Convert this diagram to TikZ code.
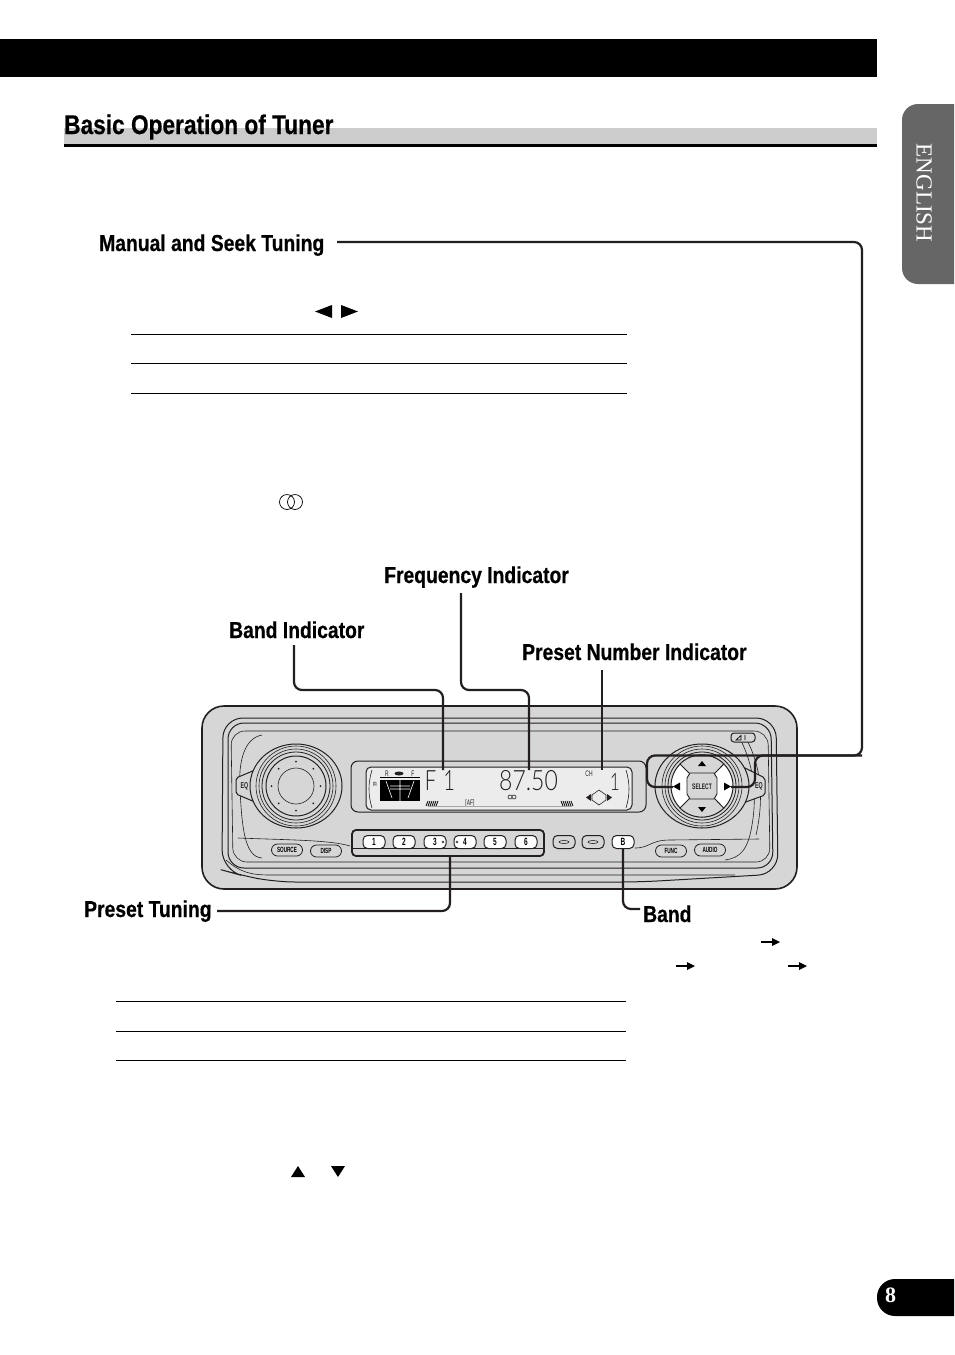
\documentclass[tikz,border=0pt]{standalone}
\usepackage{fontspec}
\setmainfont{Liberation Sans}
\newfontfamily\condfont[FakeStretch=0.84,BoldFeatures={FakeBold=0.5}]{Liberation Sans}
\newfontfamily\narrowfont[FakeStretch=0.62]{Liberation Sans}
\newfontfamily\lcdfont[FakeStretch=0.72]{Lato Light}
\newfontfamily\lcdwide[FakeStretch=0.82]{Lato Light}
\newfontfamily\tabfont{Liberation Serif}
\usetikzlibrary{shapes.geometric,calc}
\definecolor{facegrey}{HTML}{D6D6D6}
\definecolor{lcdgrey}{HTML}{ECECEC}
\definecolor{bandgrey}{HTML}{CCCCCC}
\definecolor{tabgrey}{HTML}{666666}
\definecolor{inkline}{HTML}{231F20}
\tikzset{
  x=1pt,y=-1pt,
  heading/.style={anchor=base west,inner sep=0,font=\condfont\bfseries\fontsize{23}{23}\selectfont,text=black},
  conn/.style={line width=2.2pt,draw=inkline,rounded corners=8pt},
  rule/.style={line width=1pt,draw=black},
  solidtri/.style={fill=black,draw=none},
  contour/.style={line width=1pt,draw=inkline},
  thincontour/.style={line width=.6pt,draw=inkline},
  keycap/.style={rectangle,rounded corners=4.5pt,draw=inkline,line width=1pt,fill=white,minimum width=22pt,minimum height=13pt,inner sep=0,font=\narrowfont\bfseries\fontsize{10.5}{10.5}\selectfont},
  pill/.style={rectangle,rounded corners=6pt,draw=inkline,line width=.8pt,fill=facegrey,minimum width=31pt,minimum height=12pt,inner sep=0,font=\narrowfont\bfseries\fontsize{7.5}{7.5}\selectfont},
  lcdtext/.style={inner sep=0,font=\lcdfont\fontsize{28}{28}\selectfont,text=inkline},
  tiny/.style={inner sep=0,font=\narrowfont\fontsize{8}{8}\selectfont,text=inkline},
  smallbold/.style={inner sep=0,font=\narrowfont\bfseries\fontsize{8.5}{8.5}\selectfont,text=inkline},
}
\begin{document}
\begin{tikzpicture}
\useasboundingbox (0,0) rectangle (954,1355);
\fill[white] (0,0) rectangle (954,1355);
% header
\fill[black] (0,39) rectangle (877,77);
\fill[bandgrey] (64,128) rectangle (877,144);
\fill[black] (64,144) rectangle (877,147);
\node[heading,font=\condfont\bfseries\fontsize{27}{27}\selectfont] (title) at (64,134) {Basic Operation of Tuner};
% language tab
\fill[tabgrey] (954,104) [rounded corners=16pt] -- (902,104) -- (902,284) [sharp corners] -- (954,284) -- cycle;
\node[rotate=-90,inner sep=0,text=white,font=\tabfont\fontsize{23}{23}\selectfont] (lang) at (924,193) {ENGLISH};
% page number
\fill[black] (954,1279) [rounded corners=18pt] -- (877,1279) -- (877,1316) [sharp corners] -- (954,1316) -- cycle;
\node[inner sep=0,text=white,font=\tabfont\bfseries\fontsize{22}{22}\selectfont] (pageno) at (890.5,1295.5) {8};
% table rules
\foreach \yy in {334,363,393} \draw[rule] (131,\yy) -- (627,\yy);
\foreach \yy in {1001,1031,1060} \draw[rule] (116,\yy) -- (626,\yy);
% stray symbols
\fill[solidtri] (315,311.5) -- (332,305) -- (332,318) -- cycle;
\fill[solidtri] (358,311.5) -- (341,305) -- (341,318) -- cycle;
\draw[line width=.7pt] (287,502) ellipse[x radius=7.5,y radius=7.5];
\draw[line width=.7pt] (295,502) ellipse[x radius=7.5,y radius=7.5];
\fill[solidtri] (298,1166) -- (305,1177) -- (291,1177) -- cycle;
\fill[solidtri] (338,1177) -- (345,1166) -- (331,1166) -- cycle;
\foreach \xa/\ya in {761/942,676/966,788/966}{
  \draw[line width=1.5pt] (\xa,\ya) -- ++(13,0);
  \fill[solidtri] (\xa+11,\ya-4) -- (\xa+19,\ya) -- (\xa+11,\ya+4) -- cycle;
}
% device body
\draw[line width=1.6pt,draw=inkline,fill=facegrey,rounded corners=22pt] (202,706) rectangle (797,889);
\draw[contour,rounded corners=20pt] (223,718) -- (776,718) -- (778,874) -- (640,882) -- (275,882) -- (240,875) -- (222,870) -- cycle;
\draw[contour,rounded corners=16pt] (228,723) -- (771,723) -- (773,868) -- (228,868) -- cycle;
\draw[thincontour,rounded corners=14pt] (231,731) -- (768,731) -- (770,862) -- (233,862) -- cycle;
\draw[thincontour] (226,860) .. controls (240,872) and (250,875) .. (270,875) -- (735,875);
% panel contours
\draw[thincontour] (262,735) .. controls (245,738) and (238,760) .. (240,790) .. controls (242,825) and (244,857) .. (262,858);
\draw[thincontour] (238,838) .. controls (290,840) and (330,840) .. (350,846);
\draw[thincontour] (635,848) .. controls (650,848) and (650,840) .. (670,840) -- (759,839);
\draw[thincontour] (738,735) .. controls (752,760) and (758,790) .. (752,825) .. controls (748,850) and (740,858) .. (725,860);
\draw[thincontour] (744,735) .. controls (762,765) and (764,800) .. (756,835);
% left EQ
\draw[contour,fill=facegrey,rounded corners=2pt] (236,778) -- (255,770) -- (255,802) -- (236,794) -- cycle;
\node[smallbold] (eqL) at (244.5,786.5) {EQ};
% left knob
\draw[contour,fill=facegrey] (296,786) ellipse[x radius=46,y radius=42];
\foreach \rr/\lw in {40/.6,37/.6,34/.8,30/1}\draw[line width=\lw pt,draw=inkline] (296,786) circle[radius=\rr];
\draw[thincontour] (296,786) circle[radius=18];
\foreach \aa in {0,45,...,315}\fill[inkline] ($(296,786)+(\aa:24.5)$) circle[radius=1];
% display
\draw[contour,rounded corners=7pt] (351,761) rectangle (646,812);
\draw[contour,fill=lcdgrey,rounded corners=5pt] (366,767) rectangle (632,810);
\fill[black] (380,780) rectangle (420,801);
\draw[line width=1pt,draw=black] (380,777) -- (420,777);
\draw[white,line width=.6pt] (386,781) -- (392,798) (414,781) -- (408,798) (400,780) -- (400,801) (390,786) -- (410,786) (390,789) -- (410,789);
\node[tiny] (lcdR) at (387,773.5) {R};
\node[tiny] (lcdF) at (413,773.5) {F};
\fill[inkline] (399,773.5) ellipse[x radius=4.5,y radius=2];
\draw[thincontour] (372,770) .. controls (368,783) and (368,795) .. (372,808);
\draw[thincontour] (626,770) .. controls (630,783) and (630,795) .. (626,808);
\node[tiny,font=\narrowfont\bfseries\fontsize{6}{6}\selectfont] (lcdFI) at (375,784) {FI};
\node[lcdtext] (lcdBand) at (440,781) {F\hspace{7pt}1};
\node[lcdtext,font=\lcdwide\fontsize{28}{28}\selectfont] (lcdFreq) at (528.5,781) {87.50};
\node[lcdtext,font=\lcdfont\fontsize{24}{24}\selectfont] (lcdPreset) at (615,782) {1};
\node[tiny] (lcdCH) at (589,773.5) {CH};
\node[tiny] (lcdAF) at (470,803.5) {[AF]};
\draw[thincontour] (510,797) circle[radius=2] (514,797) circle[radius=2];
\draw[line width=1pt,draw=gray!70] (428,806) -- (572,806);
\foreach \xc in {426,428,...,436}\draw[line width=.8pt] (\xc,806) -- (\xc+2,801);
\foreach \xc in {561,563,...,571}\draw[line width=.8pt] (\xc,801) -- (\xc+2,806);
% lcd direction indicator
\draw[thincontour] (592,795) -- (599,790) -- (606,795) -- (606,800) -- (599,805) -- (592,800) -- cycle;
\fill[inkline] (586,797.5) -- (591,794) -- (591,801) -- cycle (612,797.5) -- (607,794) -- (607,801) -- cycle;
% preset group box
\draw[line width=1.8pt,draw=inkline,fill=facegrey,rounded corners=4pt] (352,830) rectangle (544,856);
\draw[thincontour] (352,848) -- (544,848);
\foreach \num/\cx in {1/374,2/404,3/435,4/465,5/495,6/526}
  \node[keycap] (key\num) at (\cx,842) {\num};
\draw[line width=.4pt] (443,842) circle[radius=1.2];
\draw[line width=.4pt] (457,842) circle[radius=1.2];
\node[keycap,fill=facegrey] (keyA) at (564,842) {};
\node[keycap,fill=facegrey] (keyB) at (593,842) {};
\draw[line width=.5pt] (564,842) ellipse[x radius=5,y radius=1.5];
\draw[line width=.5pt] (593,842) ellipse[x radius=5,y radius=1.5];
\node[keycap] (keyBand) at (623,842) {B};
\node[pill] (btnSource) at (287,850) {SOURCE};
\node[pill] (btnDisp) at (326,851) {DISP};
\node[pill] (btnFunc) at (671,851) {FUNC};
\node[pill] (btnAudio) at (710,850) {AUDIO};
% top right tab
\draw[contour,fill=facegrey,rounded corners=3pt] (731,733) rectangle (755,742);
\draw[line width=.7pt] (736,740) -- (741,735.5) -- (741,740) -- cycle (745,735) -- (745,740);
% right EQ
\draw[contour,fill=facegrey,rounded corners=2pt] (743,767) -- (765,778) -- (765,795) -- (743,803) -- cycle;
\node[smallbold] (eqR) at (759,786.5) {EQ};
% right knob
\draw[contour,fill=facegrey] (702,786) ellipse[x radius=47,y radius=42];
\foreach \rr/\lw in {40/.6,37/.6,34/.8}\draw[line width=\lw pt,draw=inkline] (702,786) circle[radius=\rr];
\draw[line width=1pt,draw=inkline,fill=white] (702,786) circle[radius=31];
\draw[line width=.9pt,draw=inkline,fill=facegrey] (680,764) arc[start angle=225,end angle=315,radius=31] -- (702,786) -- cycle;
\draw[line width=.9pt,draw=inkline,fill=facegrey] (680,808) arc[start angle=135,end angle=45,radius=31] -- (702,786) -- cycle;
\draw[line width=.9pt,draw=inkline,fill=facegrey] (690,773) -- (714,773) -- (717,778) -- (717,794) -- (714,799) -- (690,799) -- (687,794) -- (687,778) -- cycle;
\node[inner sep=0,font=\narrowfont\bfseries\fontsize{8}{8}\selectfont,text=inkline] (btnSelect) at (702,786.5) {SELECT};
\fill[solidtri] (702,761) -- (706,766) -- (698,766) -- cycle;
\fill[solidtri] (702,812) -- (706,807) -- (698,807) -- cycle;
\fill[solidtri] (673,786.5) -- (680,782.5) -- (680,790.5) -- cycle (731,786.5) -- (724,782.5) -- (724,790.5) -- cycle;
% labels
\node[heading] (lblManual) at (99,251) {Manual and Seek Tuning};
\node[heading] (lblFreq) at (384,583) {Frequency Indicator};
\node[heading] (lblBandInd) at (229,638) {Band Indicator};
\node[heading] (lblPreset) at (522,660) {Preset Number Indicator};
\node[heading] (lblTuning) at (84,917) {Preset Tuning};
\node[heading] (lblBand) at (643,922) {Band};
% connector anchors
\coordinate (manualFree) at (337,242);
\coordinate (manualElbow) at (862,242);
\coordinate (manualLow) at (862,755.5);
\coordinate (leftBend) at (647,755.5);
\coordinate (leftBottom) at (647,787);
\coordinate (leftArrow) at (673,787);
\coordinate (rightTop) at (755,755.5);
\coordinate (rightBottom) at (755,787);
\coordinate (rightArrow) at (731,787);
\coordinate (bandIndTop) at (294,645);
\coordinate (bandIndMid) at (294,690);
\coordinate (bandIndCorner) at (443,690);
\coordinate (bandIndEnd) at (443,770);
\coordinate (freqTop) at (461,593);
\coordinate (freqMid) at (461,690);
\coordinate (freqCorner) at (529,690);
\coordinate (freqEnd) at (529,770);
\coordinate (presetTop) at (602,670);
\coordinate (presetEnd) at (602,770);
\coordinate (tuningFree) at (217,911);
\coordinate (tuningCorner) at (450,911);
\coordinate (tuningEnd) at (450,857);
\coordinate (bandCorner) at (623,909);
\coordinate (bandFree) at (640,909);
% connectors
\draw[conn] (manualFree) -- (manualElbow) -- (manualLow) -- (leftBend) -- (leftBottom) -- (leftArrow);
\draw[conn] (manualLow) -- (rightTop) -- (rightBottom) -- (rightArrow);
\draw[conn] (bandIndTop) -- (bandIndMid) -- (bandIndCorner) -- (bandIndEnd);
\draw[conn] (freqTop) -- (freqMid) -- (freqCorner) -- (freqEnd);
\draw[conn] (presetTop) -- (presetEnd);
\draw[conn] (tuningFree) -- (tuningCorner) -- (tuningEnd);
\draw[conn] (keyBand.south) -- (bandCorner) -- (bandFree);
\end{tikzpicture}
\end{document}
